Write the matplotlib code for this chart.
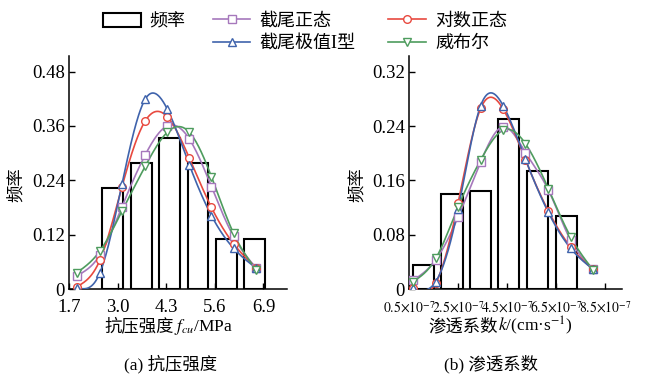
import numpy as np
import matplotlib
matplotlib.use("Agg")
import matplotlib.pyplot as plt
from matplotlib.patches import Patch
from matplotlib.lines import Line2D

plt.rcParams['font.family'] = ['Liberation Serif', 'Noto Sans CJK SC']
plt.rcParams['mathtext.fontset'] = 'stix'

# (a) compressive strength, MPa
bin_a = [2.86, 3.63, 4.40, 5.15, 5.91, 6.67]
freq_a = [0.222, 0.278, 0.333, 0.278, 0.111, 0.111]
pts_a = [1.91, 2.53, 3.12, 3.74, 4.33, 4.92, 5.51, 6.10, 6.71]
tnorm_a = [0.029, 0.075, 0.182, 0.296, 0.360, 0.331, 0.226, 0.116, 0.046]
lognorm_a = [0.005, 0.064, 0.226, 0.371, 0.380, 0.289, 0.180, 0.100, 0.046]
gumbel_a = [0.003, 0.036, 0.232, 0.419, 0.397, 0.274, 0.162, 0.090, 0.046]
weibull_a = [0.036, 0.084, 0.172, 0.271, 0.346, 0.346, 0.248, 0.123, 0.042]

# (b) permeability, x1e-7 cm/s
bin_b = [1.09, 2.26, 3.42, 4.58, 5.76, 6.92]
freq_b = [0.036, 0.140, 0.144, 0.251, 0.174, 0.108]
pts_b = [0.68, 1.60, 2.51, 3.43, 4.35, 5.26, 6.19, 7.10, 8.02]
tnorm_b = [0.013, 0.043, 0.106, 0.187, 0.239, 0.201, 0.146, 0.072, 0.029]
lognorm_b = [0.001, 0.009, 0.127, 0.266, 0.265, 0.190, 0.115, 0.062, 0.029]
gumbel_b = [0.001, 0.011, 0.118, 0.270, 0.270, 0.191, 0.113, 0.060, 0.029]
weibull_b = [0.011, 0.045, 0.121, 0.190, 0.234, 0.214, 0.148, 0.077, 0.028]

names = ['截尾正态', '对数正态', '截尾极值I型', '威布尔']
colors = ['#A678BC', '#E8493F', '#3F63AC', '#4E9C5E']
markers = ['s', 'o', '^', 'v']


def smooth(x, y, n=300):
    # natural cubic spline, just for drawing the line like Origin does
    x = np.asarray(x, float)
    y = np.asarray(y, float)
    k = len(x)
    h = np.diff(x)
    A = np.zeros((k, k))
    r = np.zeros(k)
    A[0, 0] = A[-1, -1] = 1
    for i in range(1, k - 1):
        A[i, i - 1] = h[i - 1]
        A[i, i] = 2 * (h[i - 1] + h[i])
        A[i, i + 1] = h[i]
        r[i] = 6 * ((y[i + 1] - y[i]) / h[i] - (y[i] - y[i - 1]) / h[i - 1])
    M = np.linalg.solve(A, r)
    xs = np.linspace(x[0], x[-1], n)
    j = np.clip(np.searchsorted(x, xs) - 1, 0, k - 2)
    t1 = x[j + 1] - xs
    t0 = xs - x[j]
    ys = (M[j] * t1 ** 3 + M[j + 1] * t0 ** 3) / (6 * h[j]) \
        + (y[j] / h[j] - M[j] * h[j] / 6) * t1 \
        + (y[j + 1] / h[j] - M[j + 1] * h[j] / 6) * t0
    return xs, ys


def draw_panel(ax, bins, freq, width, pts, curves):
    ax.bar(bins, freq, width, facecolor='none', edgecolor='black', linewidth=1.5, zorder=2)
    for vals, c, m in zip(curves, colors, markers):
        xs, ys = smooth(pts, vals)
        ax.plot(xs, ys, color=c, linewidth=1.2, zorder=3)
        ax.plot(pts, vals, linestyle='none', marker=m, markersize=5.5,
                markerfacecolor='white', markeredgecolor=c, markeredgewidth=1.0, zorder=4)
    ax.spines['top'].set_visible(False)
    ax.spines['right'].set_visible(False)
    ax.spines['left'].set_linewidth(1.1)
    ax.spines['bottom'].set_linewidth(1.1)
    ax.tick_params(direction='in', length=4, width=1.0, labelsize=13.5, pad=3)
    ax.tick_params(axis='x', pad=7)
    ax.set_ylabel('频率', fontsize=12.5)


def mixed_text(fig, parts, xc, y, size):
    # CJK part and mathtext part side by side (mathtext has no CJK glyphs)
    rend = fig.canvas.get_renderer()
    items = []
    for s in parts:
        t = fig.text(0, y, s, fontsize=size, ha='left', va='baseline')
        items.append((t, t.get_window_extent(rend).width))
    W = fig.get_figwidth() * fig.dpi
    x = xc * W - sum(w for _, w in items) / 2
    for t, w in items:
        t.set_x(x / W)
        x += w


fig = plt.figure(figsize=(6.5, 3.83), dpi=100)
ax1 = fig.add_axes([0.106, 0.2454, 0.335, 0.608])
ax2 = fig.add_axes([0.629, 0.2454, 0.328, 0.608])

draw_panel(ax1, bin_a, freq_a, 0.56, pts_a, [tnorm_a, lognorm_a, gumbel_a, weibull_a])
draw_panel(ax2, bin_b, freq_b, 0.86, pts_b, [tnorm_b, lognorm_b, gumbel_b, weibull_b])

ax1.set_xlim(1.7, 7.52)
ax1.set_ylim(0, 0.514)
ax1.set_xticks([1.7, 3.0, 4.3, 5.6, 6.9])
ax1.set_xticklabels(['1.7', '3.0', '4.3', '5.6', '6.9'])
ax1.set_yticks([0, 0.12, 0.24, 0.36, 0.48])
ax1.set_yticklabels(['0', '0.12', '0.24', '0.36', '0.48'])
ax1.yaxis.set_label_coords(-0.2, 0.45)

ax2.set_xlim(0.5, 9.2)
ax2.set_ylim(0, 0.343)
ax2.set_xticks([0.5, 2.5, 4.5, 6.5, 8.5])
ax2.set_xticklabels([r'$0.5{\times}10^{-7}$', r'$2.5{\times}10^{-7}$', r'$4.5{\times}10^{-7}$',
                     r'$6.5{\times}10^{-7}$', r'$8.5{\times}10^{-7}$'])
ax2.tick_params(axis='x', labelsize=9.8, pad=8)
ax2.set_yticks([0, 0.08, 0.16, 0.24, 0.32])
ax2.set_yticklabels(['0', '0.08', '0.16', '0.24', '0.32'])
ax2.yaxis.set_label_coords(-0.2, 0.45)

mixed_text(fig, ['抗压强度', '$f_{cu}$/MPa'], 0.26, 0.136, 12.5)
mixed_text(fig, ['渗透系数', '$k$/(cm·s$^{-1}$)'], 0.77, 0.136, 12.5)

fig.text(0.262, 0.035, '(a) 抗压强度', ha='center', fontsize=12.5)
fig.text(0.755, 0.035, '(b) 渗透系数', ha='center', fontsize=12.5)

# legend, three columns placed by hand
leg_kw = dict(frameon=False, fontsize=13, handlelength=2.1, handletextpad=0.5,
              labelspacing=0.3, borderpad=0, borderaxespad=0, loc='upper left')
h0 = [Patch(facecolor='white', edgecolor='black', linewidth=1.5)]
fig.legend(h0, ['频率'], bbox_to_anchor=(0.158, 0.967), handleheight=0.85, **leg_kw)


def line_handle(i):
    return Line2D([], [], color=colors[i], linewidth=1.2, marker=markers[i], markersize=5.5,
                  markerfacecolor='white', markeredgecolor=colors[i])


fig.legend([line_handle(0), line_handle(2)], [names[0], names[2]],
           bbox_to_anchor=(0.327, 0.967), **leg_kw)
fig.legend([line_handle(1), line_handle(3)], [names[1], names[3]],
           bbox_to_anchor=(0.597, 0.967), **leg_kw)

fig.savefig('out.png', dpi=100)
